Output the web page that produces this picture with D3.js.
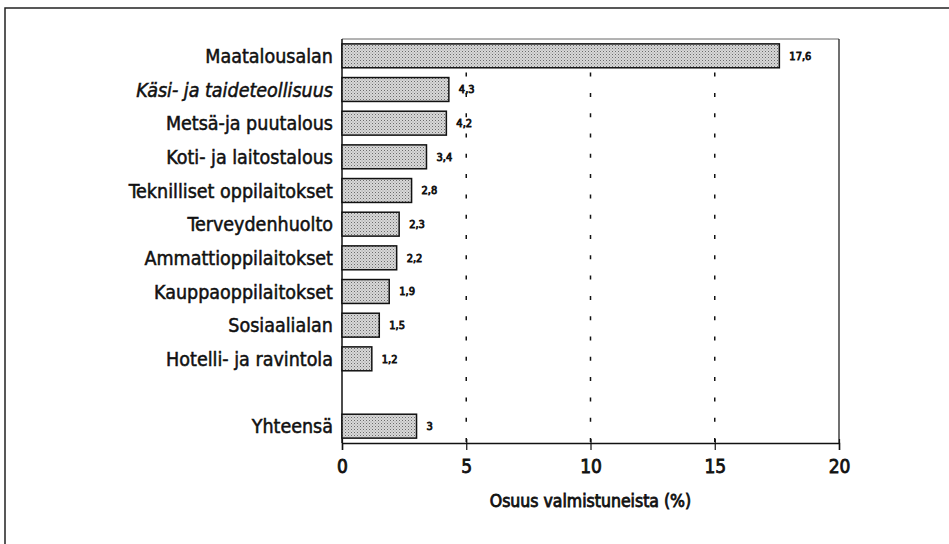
<!DOCTYPE html>
<html>
<head>
<meta charset="utf-8">
<script src="https://cdn.jsdelivr.net/npm/d3@7"></script>
<style>
  html, body { margin: 0; padding: 0; background: #fff; }
  svg { display: block; }
  text { font-family: "Liberation Sans Narrow", "Arial Narrow", "DejaVu Sans Condensed", sans-serif; fill: #111; }
  .heavy { stroke: #111; stroke-width: 0.8px; }
  .medium { stroke: #111; stroke-width: 0.5px; }
</style>
</head>
<body>
<svg id="chart" width="949" height="544"></svg>
<script>
// data
var categories = [
    "Maatalousalan",
    "Käsi- ja taideteollisuus",
    "Metsä-ja puutalous",
    "Koti- ja laitostalous",
    "Teknilliset oppilaitokset",
    "Terveydenhuolto",
    "Ammattioppilaitokset",
    "Kauppaoppilaitokset",
    "Sosiaalialan",
    "Hotelli- ja ravintola"
];
var values = [17.6, 4.3, 4.2, 3.4, 2.8, 2.3, 2.2, 1.9, 1.5, 1.2];
var totalLabel = "Yhteensä";
var totalValue = 3;
var italicCats = ["Käsi- ja taideteollisuus"];
var xTicks = [0, 5, 10, 15, 20];
var xTitle = "Osuus valmistuneista (%)";

var svg = d3.select("#chart"),
    margin = {left: 342, right: 110, top: 39, bottom: 101},
    width = +svg.attr("width"),
    height = +svg.attr("height"),
    x0 = margin.left, x1 = width - margin.right,
    y0 = margin.top, y1 = height - margin.bottom;

var fi = d3.formatLocale({decimal: ",", thousands: " ", grouping: [3], currency: ["", "€"]});
var fmt = function(v) { return Number.isInteger(v) ? String(v) : fi.format(".1f")(v); };

var rows = categories.map(function(c, i) { return {name: c, value: values[i]}; });
rows.push({name: "__gap__", value: null});
rows.push({name: totalLabel, value: totalValue});

var x = d3.scaleLinear().domain([0, 20]).range([x0, x1]);
var y = d3.scaleBand()
    .domain(rows.map(function(d) { return d.name; }))
    .range([y0, y1])
    .paddingInner(0.29)
    .paddingOuter(0.145);

// stipple fill like the printed screen
var defs = svg.append("defs");
var pat = defs.append("pattern")
    .attr("id", "stipple")
    .attr("width", 3).attr("height", 3)
    .attr("patternUnits", "userSpaceOnUse");
pat.append("rect").attr("width", 3).attr("height", 3).attr("fill", "#d8d8d8");
pat.append("rect").attr("x", 0).attr("y", 0).attr("width", 1).attr("height", 1).attr("fill", "#6a6a6a");
pat.append("rect").attr("x", 1.5).attr("y", 1.5).attr("width", 1).attr("height", 1).attr("fill", "#959595");

// outer frame (only left and top edges visible)
svg.append("path")
    .attr("d", "M5,544V8H949")
    .attr("fill", "none")
    .attr("stroke", "#222")
    .attr("stroke-width", 1.5);

// dashed grid lines
svg.append("g")
    .selectAll("line")
    .data(xTicks.filter(function(t) { return t > 0 && t < 20; }))
    .enter().append("line")
        .attr("x1", function(d) { return x(d); })
        .attr("x2", function(d) { return x(d); })
        .attr("y1", y0)
        .attr("y2", y1)
        .attr("stroke", "#111")
        .attr("stroke-width", 1.5)
        .attr("stroke-dasharray", "4,16.3")
        .attr("stroke-dashoffset", 7);

// plot frame: faint top, right side, left axis
svg.append("line")
    .attr("x1", x0).attr("x2", x1).attr("y1", y0).attr("y2", y0)
    .attr("stroke", "#666").attr("stroke-width", 1);
svg.append("line")
    .attr("x1", x1).attr("x2", x1).attr("y1", y0).attr("y2", y1)
    .attr("stroke", "#111").attr("stroke-width", 1.2);
svg.append("line")
    .attr("x1", x0).attr("x2", x0).attr("y1", y0).attr("y2", y1)
    .attr("stroke", "#111").attr("stroke-width", 1.5);

// bottom axis
var xAxis = d3.axisBottom(x)
    .tickValues(xTicks)
    .tickSize(7)
    .tickPadding(10)
    .tickFormat(function(d) { return d; });
var gx = svg.append("g")
    .attr("transform", "translate(0," + y1 + ")")
    .call(xAxis);
gx.select(".domain").attr("stroke", "#111").attr("stroke-width", 1.5);
gx.selectAll(".tick line").attr("stroke", "#111").attr("stroke-width", 1.2).attr("y1", -4);
gx.selectAll(".tick text")
    .attr("class", "heavy")
    .attr("font-size", 19)
    .attr("font-family", "'Liberation Sans Narrow', 'Arial Narrow', 'DejaVu Sans Condensed', sans-serif")
    .attr("fill", "#111");

svg.append("text")
    .attr("class", "heavy")
    .attr("x", (x0 + x1) / 2)
    .attr("y", 507)
    .attr("text-anchor", "middle")
    .attr("font-size", 17.5)
    .text(xTitle);

var data = rows.filter(function(d) { return d.value !== null; });

// bars
svg.append("g")
    .selectAll("rect")
    .data(data)
    .enter().append("rect")
        .attr("x", x(0))
        .attr("y", function(d) { return y(d.name); })
        .attr("width", function(d) { return x(d.value) - x(0); })
        .attr("height", y.bandwidth())
        .attr("fill", "url(#stipple)")
        .attr("stroke", "#111")
        .attr("stroke-width", 1.5);

// value labels
svg.append("g")
    .selectAll("text")
    .data(data)
    .enter().append("text")
        .attr("class", "heavy")
        .attr("x", function(d) { return x(d.value) + 10; })
        .attr("y", function(d) { return y(d.name) + y.bandwidth() / 2; })
        .attr("dy", "0.35em")
        .attr("font-size", 11)
        .text(function(d) { return fmt(d.value); });

// category labels
svg.append("g")
    .selectAll("text")
    .data(data)
    .enter().append("text")
        .attr("class", "medium")
        .attr("x", x0 - 9)
        .attr("y", function(d) { return y(d.name) + y.bandwidth() / 2; })
        .attr("dy", "0.36em")
        .attr("text-anchor", "end")
        .attr("font-size", 19.5)
        .attr("font-style", function(d) { return italicCats.indexOf(d.name) >= 0 ? "italic" : "normal"; })
        .text(function(d) { return d.name; });
</script>
</body>
</html>
